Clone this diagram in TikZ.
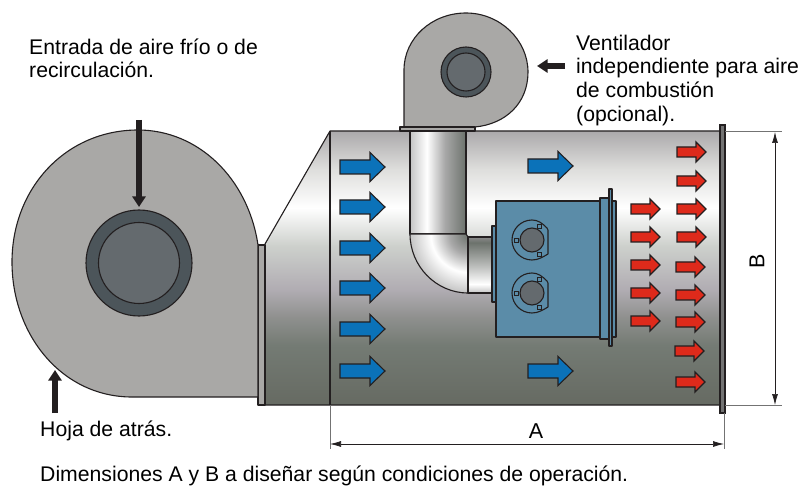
\documentclass[tikz,border=0pt]{standalone}
\usepackage{fontspec}
\setmainfont{Liberation Sans}
\usetikzlibrary{arrows.meta}
\definecolor{fangray}{HTML}{A9A8A6}
\definecolor{eyeDark}{HTML}{4C555A}
\definecolor{eyeMid}{HTML}{646A6E}
\definecolor{boxblue}{HTML}{5B8CA8}
\definecolor{arrowblue}{HTML}{0B72B9}
\definecolor{arrowred}{HTML}{DE2A1B}
\definecolor{ink}{HTML}{231F20}
\definecolor{gA}{HTML}{666A62}
\definecolor{gB}{HTML}{747B74}
\definecolor{gC}{HTML}{8F908E}
\definecolor{gD}{HTML}{B0ACB2}
\definecolor{gE}{HTML}{CDD0CC}
\definecolor{gF}{HTML}{FFFFFF}
\definecolor{gG}{HTML}{DEDEDC}
\definecolor{gH}{HTML}{ABA9AB}
\definecolor{pA}{HTML}{C4C4C4}
\definecolor{pB}{HTML}{A8A8A8}
\definecolor{pC}{HTML}{6C726C}
\definecolor{pD}{HTML}{B8BAB8}
\definecolor{pE}{HTML}{8A8A8A}
\pgfdeclareverticalshading{bodyshade}{100bp}{color(0bp)=(gA); color(25bp)=(gA); color(36bp)=(gB); color(41bp)=(gC); color(46bp)=(gD); color(54bp)=(gE); color(61bp)=(gF); color(68bp)=(gG); color(75bp)=(gH); color(100bp)=(gH)}
\pgfdeclarehorizontalshading{pipeV}{100bp}{color(0bp)=(pA); color(25bp)=(pA); color(40bp)=(gF); color(56bp)=(pB); color(75bp)=(pC); color(100bp)=(pC)}
\pgfdeclareverticalshading{pipeH}{100bp}{color(0bp)=(pA); color(25bp)=(pA); color(33bp)=(gF); color(50bp)=(pD); color(70bp)=(pC); color(75bp)=(pE); color(100bp)=(pE)}
\pgfdeclareradialshading{elbowshade}{\pgfpoint{0bp}{0bp}}{color(0bp)=(pC); color(8bp)=(pB); color(16bp)=(gF); color(25bp)=(pA); color(50bp)=(pA)}
\tikzset{
 x=1pt,y=-1pt,
 outline/.style={draw=ink,line width=1.1pt,line join=round},
 fan/.style={outline,fill=fangray},
 eyeouter/.style={outline,fill=eyeDark},
 eyeinner/.style={outline,fill=eyeMid},
 panel/.style={outline,fill=boxblue},
 blackarrow/.style={draw=ink,line width=5.5pt,-{Triangle[length=10.5pt,width=13pt]}},
 dimline/.style={draw=ink,line width=0.7pt,{Latex[length=11pt,width=6pt]}-{Latex[length=11pt,width=6pt]}},
 extline/.style={draw=black!55,line width=1pt},
 label/.style={inner sep=0pt,anchor=base west,font=\fontsize{21.2}{24}\selectfont},
 flowblue/.style={draw=ink,fill=arrowblue,line width=1.1pt,line join=miter},
 flowred/.style={draw=ink,fill=arrowred,line width=1.3pt,line join=miter},
}
\newcommand{\bluearrow}[2]{\draw[flowblue] (#1,#2-7)--(#1+30,#2-7)--(#1+30,#2-14.5)--(#1+45,#2)--(#1+30,#2+14.5)--(#1+30,#2+7)--(#1,#2+7)--cycle;}
\newcommand{\redarrow}[2]{\draw[flowred] (#1,#2-5)--(#1+19,#2-5)--(#1+19,#2-10)--(#1+29,#2)--(#1+19,#2+10)--(#1+19,#2+5)--(#1,#2+5)--cycle;}
\begin{document}
\begin{tikzpicture}
\useasboundingbox (0,0) rectangle (803,486);
% main casing
\draw[outline,shading=bodyshade] (265,244)--(330,131)--(720,131)--(720,405)--(265,405)--cycle;
\draw[fan] (258,245) rectangle (265,405);
\draw[outline] (330,131)--(330,405);
% big fan
\draw[fan] (258,397)--(132,397) .. controls (62,397) and (12,335) .. (12,262)
 .. controls (12,188) and (66,130) .. (138,130)
 .. controls (198,130) and (248,178) .. (258,245)--cycle;
\draw[eyeouter] (139,263) circle[radius=53];
\draw[eyeinner] (139,263) circle[radius=40.5];
% top fan
\draw[fan] (404,127)--(404,70) .. controls (404,38) and (432,13) .. (466,13)
 .. controls (500,13) and (528,40) .. (528,72)
 .. controls (528,103) and (506,124) .. (475,127)--cycle;
\draw[fan] (400,127) rectangle (475,131);
\draw[eyeouter] (466,72) circle[radius=25];
\draw[eyeinner] (466,72) circle[radius=19];
% duct
\draw[outline,shading=pipeV] (410,131) rectangle (466,234);
\begin{scope}
 \clip (410,234)--(466,234)--(468,237)--(468,293) .. controls (436,293) and (410,266) .. (410,234) -- cycle;
 \shade[shading=elbowshade] (468,235) circle[radius=58];
\end{scope}
\draw[outline] (410,234)--(466,234)--(468,237)--(468,293);
\draw[outline] (468,293) .. controls (436,293) and (410,266) .. (410,234);
\draw[outline,shading=pipeH] (468,237) rectangle (492,293);
\draw[panel] (492,226) rectangle (496,302);
% burner box
\draw[panel] (612,201) rectangle (616,337);
\draw[panel] (496,201) rectangle (600,337);
\draw[panel] (600,198) rectangle (609,339);
\draw[panel] (609,189) rectangle (612,346);
% burner ports
\foreach \cy in {240,293}{
 \draw[outline] (547,\cy-12) .. controls (542,\cy-17) and (538,\cy-20) .. (532,\cy-20)
   .. controls (521,\cy-20) and (512,\cy-11) .. (512,\cy)
   .. controls (512,\cy+11) and (521,\cy+20) .. (532,\cy+20)
   .. controls (538,\cy+20) and (543,\cy+17) .. (548,\cy+14) -- (548,\cy-10) -- cycle;
 \draw[outline,fill=eyeMid] (532,\cy) circle[radius=12];
 \draw[draw=ink,line width=0.9pt] (514,\cy-2) rectangle (518,\cy+2);
 \draw[draw=ink,line width=0.9pt] (537,\cy-16) rectangle (541,\cy-12);
 \draw[draw=ink,line width=0.9pt] (537,\cy+12) rectangle (541,\cy+16);
}
% flow arrows
\foreach \yy in {167,207,248,288,329,371}{\bluearrow{340}{\yy}}
\bluearrow{528}{166}
\bluearrow{528}{371}
\foreach \yy in {209,237,265,293,321}{\redarrow{631}{\yy}}
\foreach \xx/\yy in {677/152,677/181,677/209,677/237,676/267,676/295,676/322,675/351,676/382}{\redarrow{\xx}{\yy}}
% outlet flange
\draw[draw=ink,fill=black!55,line width=1.1pt] (720,125) rectangle (725,413);
% extension lines
\coordinate (aL0) at (330,405); \coordinate (aL1) at (330,449);
\coordinate (aR0) at (724,413); \coordinate (aR1) at (724,449);
\coordinate (bT0) at (725,132); \coordinate (bT1) at (782,132);
\coordinate (bB0) at (725,405); \coordinate (bB1) at (782,405);
\draw[extline] (aL0)--(aL1);
\draw[extline] (aR0)--(aR1);
\draw[extline] (bT0)--(bT1);
\draw[extline] (bB0)--(bB1);
% dimensions
\coordinate (dimAl) at (330,444); \coordinate (dimAr) at (724,444);
\coordinate (dimBt) at (775,132); \coordinate (dimBb) at (775,405);
\draw[dimline] (dimAl)--(dimAr);
\draw[dimline] (dimBt)--(dimBb);
\node[font=\fontsize{21.5}{24}\selectfont,inner sep=0pt] (labelA) at (536,431.5) {A};
\node[font=\fontsize{21.5}{24}\selectfont,inner sep=0pt,rotate=90] (labelB) at (757,261) {B};
% callout arrows
\coordinate (inS) at (139,120); \coordinate (inE) at (139,207);
\coordinate (backS) at (55,413); \coordinate (backE) at (55,370);
\coordinate (ventS) at (565,66); \coordinate (ventE) at (537,66);
\draw[blackarrow] (inS)--(inE);
\draw[blackarrow] (backS)--(backE);
\draw[blackarrow] (ventS)--(ventE);
% text
\node[label] (t1) at (29,55) {Entrada de aire frío o de};
\node[label] (t2) at (29,78) {recirculación.};
\node[label] (t3) at (576,50.5) {Ventilador};
\node[label] (t4) at (576,74) {independiente para aire};
\node[label] (t5) at (576,98) {de combustión};
\node[label] (t6) at (576,121.5) {(opcional).};
\node[label] (t7) at (40,436) {Hoja de atrás.};
\node[label] (t8) at (40,481) {Dimensiones A y B a diseñar según condiciones de operación.};
\end{tikzpicture}
\end{document}
